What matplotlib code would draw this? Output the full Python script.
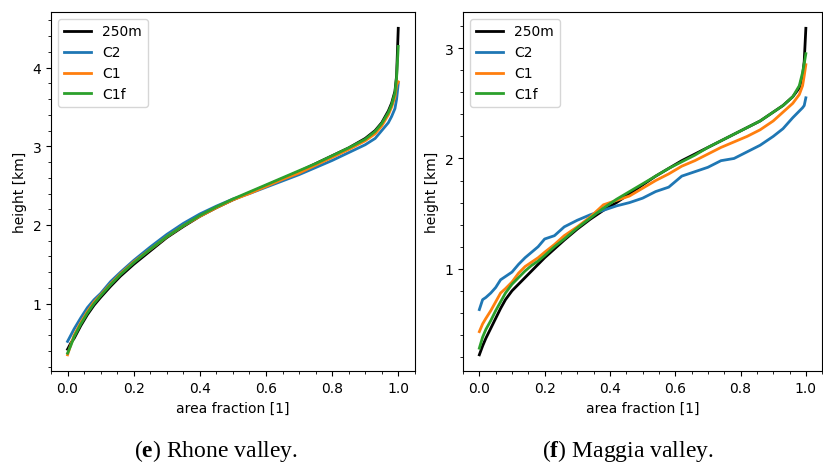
import matplotlib
matplotlib.use("Agg")
import matplotlib.pyplot as plt
from matplotlib.ticker import AutoMinorLocator

# Rhone valley hypsometric curves
x_rhone = [0, 0.01, 0.02, 0.04, 0.06, 0.08, 0.1, 0.13, 0.16, 0.2, 0.25, 0.3, 0.35, 0.4, 0.45, 0.5,
           0.55, 0.6, 0.65, 0.7, 0.75, 0.8, 0.85, 0.9, 0.93, 0.95, 0.97, 0.98, 0.99, 0.995, 1.0]
rhone_250m = [0.42, 0.5, 0.56, 0.72, 0.86, 0.98, 1.08, 1.22, 1.35, 1.5, 1.67, 1.84, 1.98, 2.11, 2.22, 2.32,
              2.41, 2.5, 2.59, 2.68, 2.78, 2.88, 2.98, 3.1, 3.2, 3.3, 3.45, 3.55, 3.7, 3.9, 4.5]
rhone_c2 = [0.52, 0.6, 0.68, 0.82, 0.95, 1.05, 1.13, 1.28, 1.4, 1.55, 1.72, 1.88, 2.02, 2.14, 2.24, 2.33,
            2.4, 2.48, 2.56, 2.64, 2.73, 2.82, 2.92, 3.02, 3.1, 3.2, 3.3, 3.38, 3.48, 3.6, 3.8]
rhone_c1 = [0.35, 0.48, 0.6, 0.76, 0.9, 1.02, 1.11, 1.25, 1.38, 1.53, 1.69, 1.85, 1.99, 2.11, 2.22, 2.32,
            2.4, 2.49, 2.58, 2.66, 2.76, 2.86, 2.96, 3.07, 3.16, 3.26, 3.4, 3.5, 3.63, 3.78, 3.82]
rhone_c1f = [0.37, 0.47, 0.58, 0.74, 0.88, 1.0, 1.1, 1.24, 1.37, 1.52, 1.69, 1.85, 1.99, 2.12, 2.23, 2.33,
             2.42, 2.51, 2.6, 2.69, 2.78, 2.88, 2.98, 3.09, 3.19, 3.29, 3.43, 3.53, 3.68, 3.88, 4.27]

# Maggia valley hypsometric curves
x_maggia = [0, 0.01, 0.02, 0.035, 0.05, 0.065, 0.08, 0.1, 0.12, 0.14, 0.16, 0.18, 0.2, 0.23, 0.26, 0.3,
            0.34, 0.38, 0.42, 0.46, 0.5, 0.54, 0.58, 0.62, 0.66, 0.7, 0.74, 0.78, 0.82, 0.86, 0.9, 0.93,
            0.96, 0.98, 0.99, 0.995, 1.0]
maggia_250m = [0.22, 0.3, 0.37, 0.46, 0.55, 0.64, 0.72, 0.8, 0.86, 0.92, 0.98, 1.04, 1.1, 1.18, 1.26, 1.36,
               1.45, 1.53, 1.6, 1.68, 1.76, 1.84, 1.91, 1.98, 2.04, 2.1, 2.16, 2.22, 2.28, 2.34, 2.42, 2.48,
               2.56, 2.64, 2.75, 2.88, 3.18]
maggia_c2 = [0.63, 0.72, 0.74, 0.78, 0.83, 0.9, 0.93, 0.97, 1.04, 1.1, 1.15, 1.2, 1.27, 1.3, 1.38, 1.44,
             1.49, 1.53, 1.57, 1.6, 1.64, 1.7, 1.74, 1.84, 1.88, 1.92, 1.98, 2.0, 2.06, 2.12, 2.2, 2.27,
             2.37, 2.43, 2.46, 2.48, 2.55]
maggia_c1 = [0.43, 0.5, 0.55, 0.62, 0.7, 0.78, 0.82, 0.88, 0.96, 1.02, 1.06, 1.1, 1.15, 1.22, 1.3, 1.38,
             1.47, 1.58, 1.62, 1.66, 1.73, 1.8, 1.86, 1.93, 1.98, 2.04, 2.1, 2.15, 2.2, 2.26, 2.34, 2.42,
             2.5, 2.58, 2.66, 2.75, 2.85]
maggia_c1f = [0.28, 0.38, 0.45, 0.53, 0.62, 0.7, 0.78, 0.86, 0.92, 0.98, 1.03, 1.07, 1.12, 1.2, 1.27, 1.37,
              1.46, 1.55, 1.63, 1.7, 1.77, 1.84, 1.91, 1.97, 2.03, 2.1, 2.16, 2.22, 2.28, 2.34, 2.42, 2.48,
              2.56, 2.66, 2.78, 2.86, 2.95]

labels = ["250m", "C2", "C1", "C1f"]
colors = ["black", "#1f77b4", "#ff7f0e", "#2ca02c"]

plt.rcParams['mathtext.fontset'] = 'custom'
plt.rcParams['mathtext.rm'] = 'Liberation Serif'
plt.rcParams['mathtext.bf'] = 'Liberation Serif:bold'


def draw(ax, x, series, yticks):
    for y, lab, col in zip(series, labels, colors):
        ax.plot(x, y, color=col, lw=2, label=lab)
    ax.set_xticks([0.0, 0.2, 0.4, 0.6, 0.8, 1.0])
    ax.set_yticks(yticks)
    ax.xaxis.set_minor_locator(AutoMinorLocator())
    ax.yaxis.set_minor_locator(AutoMinorLocator())
    ax.set_xlabel('area fraction [1]')
    ax.set_ylabel('height [km]')
    ax.legend(loc='upper left')


def main():
    fig = plt.figure(figsize=(8.23, 4.64), dpi=100)
    ax1 = fig.add_axes([0.062, 0.198, 0.442, 0.774])
    ax2 = fig.add_axes([0.5626, 0.198, 0.4364, 0.774])

    draw(ax1, x_rhone, [rhone_250m, rhone_c2, rhone_c1, rhone_c1f], [1, 2, 3, 4])
    draw(ax2, x_maggia, [maggia_250m, maggia_c2, maggia_c1, maggia_c1f], [1, 2, 3])

    fig.text(0.2625, 0.015, r'($\mathbf{e}$) Rhone valley.', ha='center', va='baseline',
             family='Liberation Serif', fontsize=17)
    fig.text(0.763, 0.015, r'($\mathbf{f}$) Maggia valley.', ha='center', va='baseline',
             family='Liberation Serif', fontsize=17)

    fig.savefig('out.png', dpi=100)


if __name__ == "__main__":
    main()
